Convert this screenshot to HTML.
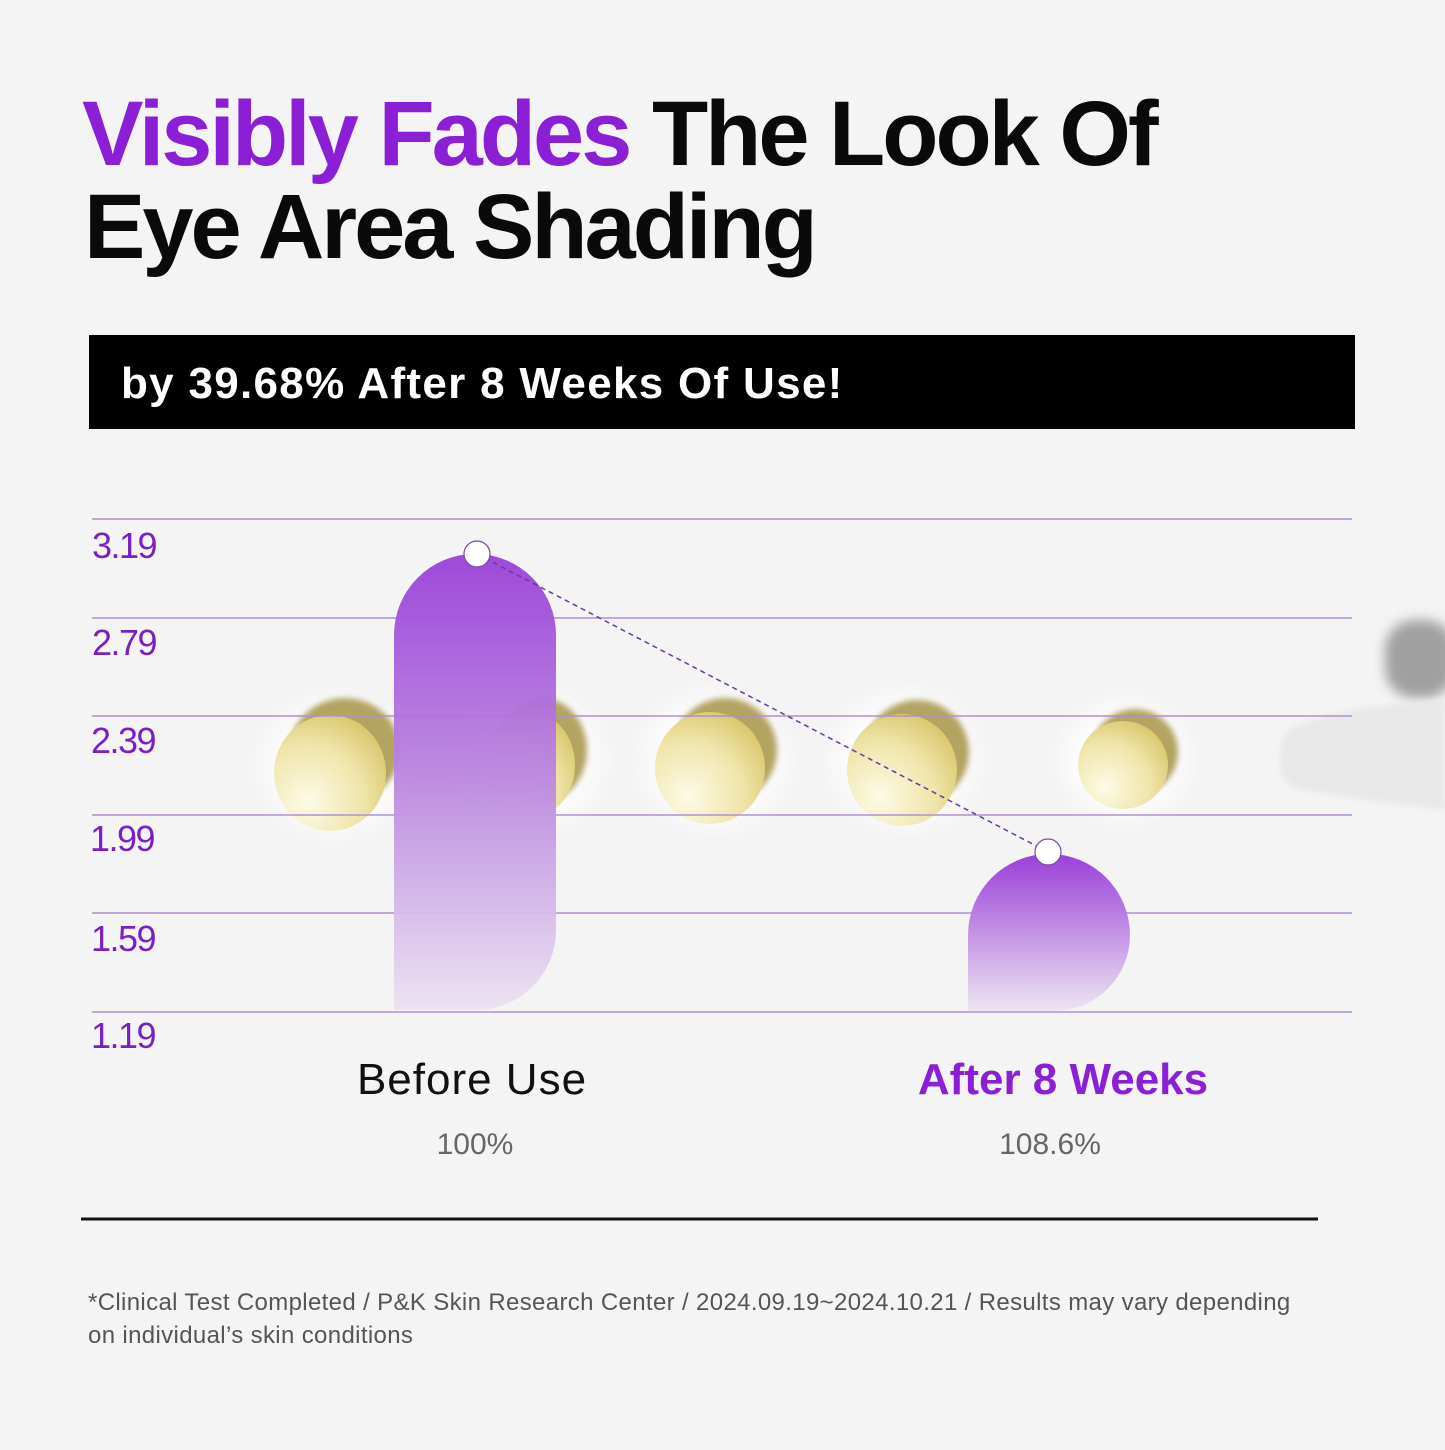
<!DOCTYPE html>
<html><head><meta charset="utf-8"><style>
body{margin:0;width:1445px;height:1445px;background:#f4f4f4;overflow:hidden;font-family:"Liberation Sans",sans-serif}
</style></head><body>
<svg width="1445" height="1445" viewBox="0 0 1445 1445" xmlns="http://www.w3.org/2000/svg">
<defs>
<linearGradient id="bar" x1="0" y1="0" x2="0" y2="1"><stop offset="0" stop-color="#9a3fd8"/><stop offset="0.5" stop-color="#bb88e0"/><stop offset="1" stop-color="#ece2f2"/></linearGradient>
<linearGradient id="bar2" x1="0" y1="0" x2="0" y2="1"><stop offset="0" stop-color="#9a3fd8"/><stop offset="1" stop-color="#ede5f2"/></linearGradient>
<radialGradient id="cap" cx="0.3" cy="0.75" r="0.85"><stop offset="0" stop-color="#fdfbe6"/><stop offset="0.6" stop-color="#efe4a8"/><stop offset="1" stop-color="#d8c468"/></radialGradient>
<radialGradient id="glow"><stop offset="0.5" stop-color="#fff" stop-opacity="1"/><stop offset="1" stop-color="#fff" stop-opacity="0"/></radialGradient>
<filter id="b" x="-30%" y="-30%" width="160%" height="160%"><feGaussianBlur stdDeviation="3"/></filter>
<filter id="b2" x="-30%" y="-30%" width="160%" height="160%"><feGaussianBlur stdDeviation="6"/></filter>
</defs>
<text x="82" y="165" font-size="92" font-weight="bold" letter-spacing="-3" fill="#8a1fd6">Visibly Fades <tspan fill="#0a0a0a">The Look Of</tspan></text>
<text x="84" y="258" font-size="92" font-weight="bold" letter-spacing="-3" fill="#0a0a0a">Eye Area Shading</text>
<rect x="89" y="335" width="1266" height="94" fill="#000"/>
<text x="121" y="398" font-size="44" font-weight="bold" letter-spacing="1.3" fill="#fff">by 39.68% After 8 Weeks Of Use!</text>
<g>
<ellipse cx="335" cy="765" rx="85" ry="80" fill="url(#glow)"/>
<ellipse cx="530" cy="760" rx="85" ry="80" fill="url(#glow)"/>
<ellipse cx="715" cy="760" rx="85" ry="80" fill="url(#glow)"/>
<ellipse cx="905" cy="760" rx="85" ry="80" fill="url(#glow)"/>
<ellipse cx="1125" cy="760" rx="75" ry="70" fill="url(#glow)"/>
<ellipse cx="345" cy="750" rx="55" ry="52" fill="#b4a462" filter="url(#b)"/><ellipse cx="330" cy="773" rx="56" ry="58" fill="url(#cap)"/>
<ellipse cx="542" cy="750" rx="45" ry="52" fill="#b4a462" filter="url(#b)"/><ellipse cx="530" cy="765" rx="45" ry="53" fill="url(#cap)"/>
<ellipse cx="725" cy="750" rx="52" ry="52" fill="#b4a462" filter="url(#b)"/><ellipse cx="710" cy="768" rx="55" ry="56" fill="url(#cap)"/>
<ellipse cx="917" cy="752" rx="52" ry="52" fill="#b4a462" filter="url(#b)"/><ellipse cx="902" cy="770" rx="55" ry="56" fill="url(#cap)"/>
<ellipse cx="1135" cy="752" rx="43" ry="43" fill="#b4a462" filter="url(#b)"/><ellipse cx="1123" cy="765" rx="45" ry="44" fill="url(#cap)"/>
<rect x="1385" y="620" width="70" height="78" rx="30" fill="#a0a0a0" filter="url(#b2)"/>
<path d="M1300 725 Q1350 705 1445 700 L1445 810 Q1360 800 1300 790 Q1278 785 1280 755 Q1282 728 1300 725Z" fill="#e8e8e8" filter="url(#b)"/>
</g>
<g stroke="#b28fcf" stroke-width="1.5">
<line x1="92" y1="519" x2="1352" y2="519"/><line x1="92" y1="618" x2="1352" y2="618"/><line x1="92" y1="716" x2="1352" y2="716"/><line x1="92" y1="815" x2="1352" y2="815"/><line x1="92" y1="913" x2="1352" y2="913"/><line x1="92" y1="1012" x2="1352" y2="1012"/>
</g>
<g font-size="36" fill="#7a1fc4" letter-spacing="-1.5">
<text x="92" y="558">3.19</text><text x="92" y="655">2.79</text><text x="91" y="753">2.39</text><text x="90" y="851">1.99</text><text x="91" y="951">1.59</text><text x="91" y="1048">1.19</text>
</g>
<path d="M394 635 A81 81 0 0 1 556 635 L556 930 A80 80 0 0 1 476 1010 L394 1010Z" fill="url(#bar)" opacity="0.95"/>
<path d="M968 935 A81 81 0 0 1 1130 935 A76 76 0 0 1 1054 1011 L968 1011Z" fill="url(#bar2)"/>
<line x1="477" y1="554" x2="1048" y2="852" stroke="#6a3a9a" stroke-width="1.5" stroke-dasharray="5,4"/>
<circle cx="477" cy="554" r="13" fill="#fff" stroke="#7a4aa0" stroke-width="1.2"/>
<circle cx="1048" cy="852" r="13" fill="#fff" stroke="#7a4aa0" stroke-width="1.2"/>
<text x="472" y="1094" font-size="44" text-anchor="middle" fill="#111" letter-spacing="1">Before Use</text>
<text x="1063" y="1094" font-size="44" font-weight="bold" text-anchor="middle" fill="#8a1fd6">After 8 Weeks</text>
<text x="475" y="1154" font-size="30" text-anchor="middle" fill="#666">100%</text>
<text x="1050" y="1154" font-size="30" text-anchor="middle" fill="#666">108.6%</text>
<line x1="81" y1="1219" x2="1318" y2="1219" stroke="#111" stroke-width="3"/>
<text x="88" y="1310" font-size="24" fill="#555" letter-spacing="0.35">*Clinical Test Completed / P&amp;K Skin Research Center / 2024.09.19~2024.10.21 / Results may vary depending</text>
<text x="88" y="1343" font-size="24" fill="#555" letter-spacing="0.35">on individual’s skin conditions</text>
</svg>
</body></html>
